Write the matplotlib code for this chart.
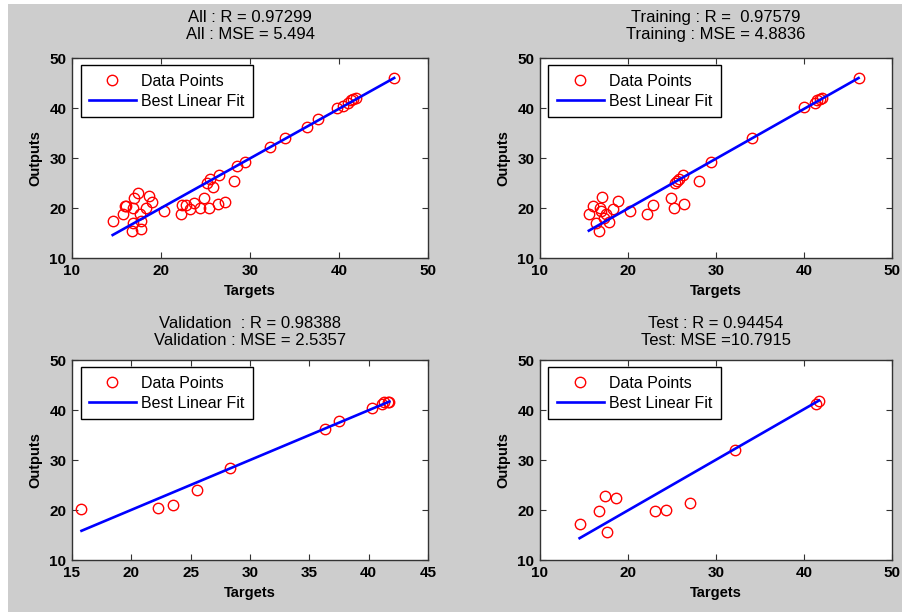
import matplotlib
matplotlib.use("Agg")
import matplotlib.pyplot as plt
from matplotlib.patches import Rectangle
import numpy as np

# ---------------- data ----------------
all_targets = [14.57, 15.7, 15.9, 16.1, 16.75, 16.8, 16.9, 17.0, 17.45, 17.6, 17.75, 17.75,
               18.3, 18.7, 18.95, 20.3, 22.2, 22.4, 22.8, 23.3, 23.7, 24.4, 24.8, 25.4,
               25.2, 25.5, 25.8, 26.4, 26.5, 27.2, 28.2, 28.5, 29.4, 32.2, 33.9, 36.4,
               37.6, 39.8, 40.4, 41.0, 41.3, 41.6, 41.9, 46.2]
all_outputs = [17.33, 18.8, 20.5, 20.5, 15.5, 17.1, 20.1, 22.1, 23.1, 18.8, 17.5, 15.9,
               20.1, 22.5, 21.3, 19.5, 18.8, 20.7, 20.7, 19.8, 21.0, 20.1, 22.1, 20.1,
               25.1, 25.8, 24.3, 20.8, 26.7, 21.3, 25.5, 28.5, 29.3, 32.3, 34.1, 36.3,
               37.8, 40.1, 40.5, 41.1, 41.6, 41.9, 42.1, 46.0]

train_targets = [15.55, 16.0, 16.4, 16.7, 16.8, 16.9, 17.05, 17.3, 17.55, 17.8, 18.3, 18.9,
                 20.2, 22.2, 22.8, 24.9, 25.2, 25.3, 25.6, 25.8, 26.3, 26.4, 28.1, 29.4,
                 34.1, 40.0, 41.2, 41.5, 41.8, 42.0, 46.2]
train_outputs = [18.8, 20.5, 17.1, 15.4, 20.1, 19.5, 22.3, 18.1, 18.8, 17.3, 19.8, 21.5,
                 19.5, 18.8, 20.7, 22.1, 20.1, 25.1, 25.5, 25.9, 26.7, 20.8, 25.5, 29.3,
                 34.1, 40.3, 41.1, 41.6, 41.9, 42.1, 46.0]

val_targets = [15.8, 22.27, 23.51, 25.56, 28.3, 36.3, 37.54, 40.27, 41.1, 41.3, 41.6, 41.75]
val_outputs = [20.2, 20.4, 20.95, 24.1, 28.45, 36.3, 37.85, 40.4, 41.3, 41.7, 41.7, 41.6]

test_targets = [14.5, 16.67, 17.4, 17.65, 18.6, 23.1, 24.3, 27.0, 32.2, 41.4, 41.7]
test_outputs = [17.25, 19.9, 22.8, 15.7, 22.4, 19.8, 19.95, 21.4, 32.1, 41.3, 41.8]

# best linear fit (slope, intercept) per subset
fit_slopes = [0.993, 0.996, 0.9965, 1.012]
fit_intercepts = [0.13, -0.02, 0.095, -0.31]

titles = ["All : R = 0.97299\nAll : MSE = 5.494",
          "Training : R =  0.97579\nTraining : MSE = 4.8836",
          "Validation  : R = 0.98388\nValidation : MSE = 2.5357",
          "Test : R = 0.94454\nTest: MSE =10.7915"]
x_ticks = [[10, 20, 30, 40, 50], [10, 20, 30, 40, 50],
           [15, 20, 25, 30, 35, 40, 45], [10, 20, 30, 40, 50]]
y_ticks = [10, 20, 30, 40, 50]

targets_list = [all_targets, train_targets, val_targets, test_targets]
outputs_list = [all_outputs, train_outputs, val_outputs, test_outputs]

# ---------------- figure ----------------
W, H = 903, 614
fig = plt.figure(figsize=(W / 100, H / 100), dpi=100, facecolor="white")
fig.patches.append(Rectangle((8 / W, 2 / H), (W - 8) / W, (H - 6) / H,
                             transform=fig.transFigure, facecolor="#cdcdcd",
                             edgecolor="none", zorder=-10))

FONT = ["Liberation Sans", "DejaVu Sans"]
plt.rcParams["font.family"] = FONT

# axes positions in pixels: (left, top, right, bottom)
boxes = [(72, 58, 428, 258), (540, 58, 892, 258),
         (72, 360, 428, 560), (540, 360, 892, 560)]
title_pads = [14, 14, 11, 11]

for i, (l, t, r, b) in enumerate(boxes):
    ax = fig.add_axes([l / W, (H - b) / H, (r - l) / W, (b - t) / H])
    ax.set_facecolor("white")
    tx = np.array(targets_list[i])
    oy = np.array(outputs_list[i])
    ax.plot(tx, oy, linestyle="none", marker="o", markersize=7.5,
            markerfacecolor="none", markeredgecolor="red", markeredgewidth=1.0,
            label="Data Points")
    xl = np.array([tx.min(), tx.max()])
    ax.plot(xl, fit_slopes[i] * xl + fit_intercepts[i], color="blue", lw=1.9,
            label="Best Linear Fit")
    xt = x_ticks[i]
    ax.set_xlim(xt[0], xt[-1])
    ax.set_ylim(y_ticks[0], y_ticks[-1])
    ax.set_xticks(xt)
    ax.set_yticks(y_ticks)
    ax.tick_params(direction="in", length=4, width=0.8, top=True, right=True,
                   labelsize=11, pad=4, color="#333333")
    for lab in ax.get_xticklabels() + ax.get_yticklabels():
        lab.set_fontweight("bold")
    for s in ax.spines.values():
        s.set_color("#333333")
        s.set_linewidth(1.0)
    ax.set_xlabel("Targets", fontsize=10.5, fontweight="bold", labelpad=5)
    ax.set_ylabel("Outputs", fontsize=10.5, fontweight="bold", labelpad=5)
    ax.set_title(titles[i], fontsize=12, linespacing=1.12, pad=title_pads[i])
    leg = ax.legend(loc="upper left", bbox_to_anchor=(0.024, 0.965),
                    borderaxespad=0, fontsize=11.5, handlelength=2.9,
                    handletextpad=0.35, labelspacing=0.3, borderpad=0.55,
                    fancybox=False, framealpha=1, edgecolor="black")
    leg.get_frame().set_linewidth(1.0)

fig.savefig("out.png", dpi=100, facecolor=fig.get_facecolor())
